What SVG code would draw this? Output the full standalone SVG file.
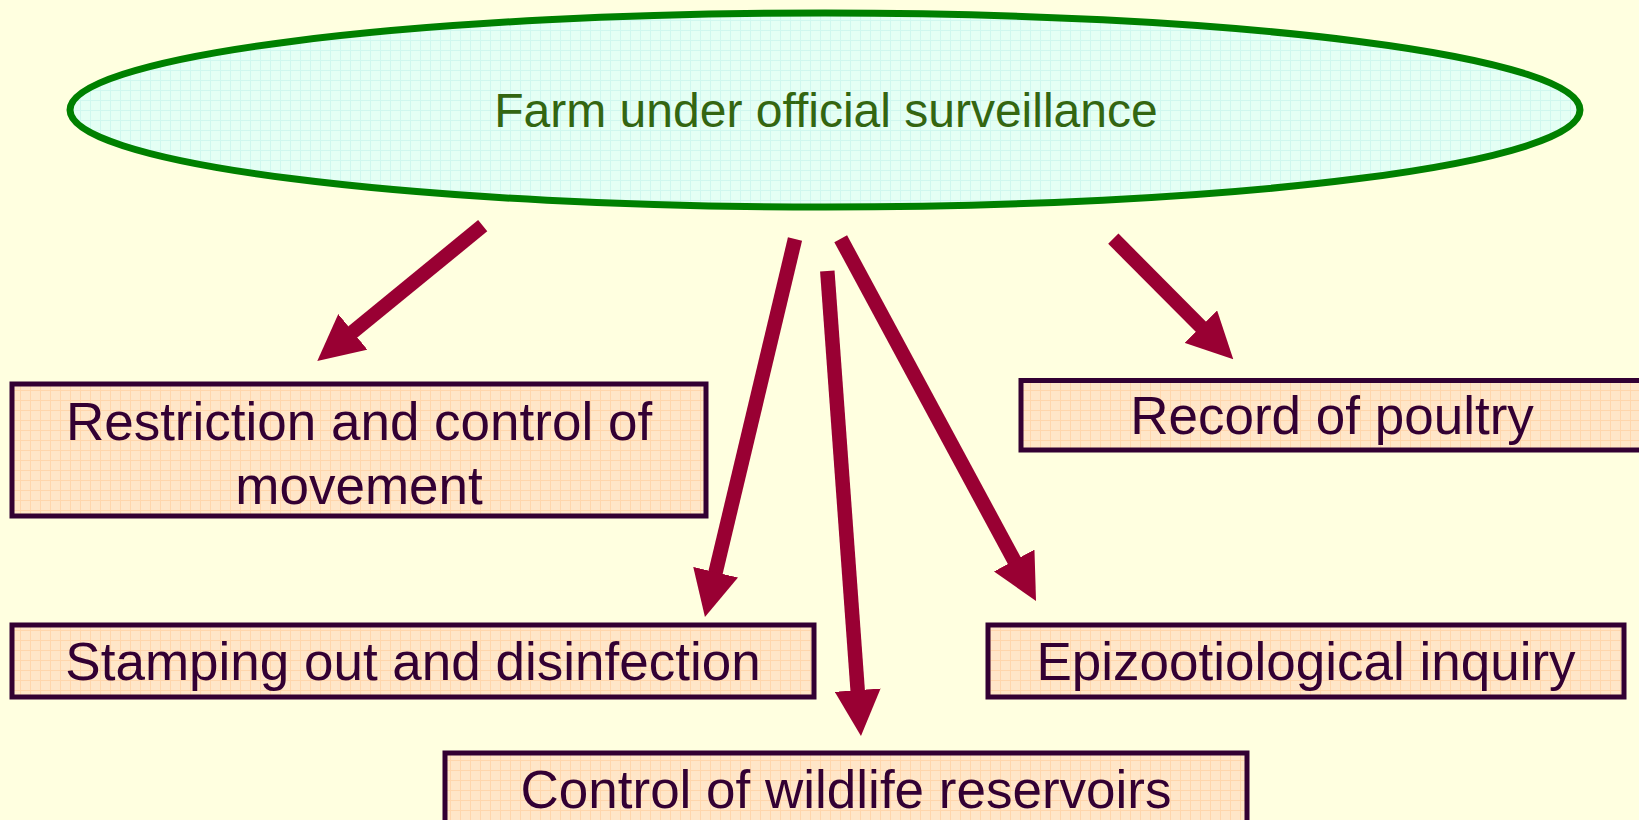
<svg xmlns="http://www.w3.org/2000/svg" width="1639" height="820" viewBox="0 0 1639 820">
  <style>
    .box { fill: url(#gridPeach); stroke: #330033; stroke-width: 5; }
    .lbl { font-family: "Liberation Sans", Arial, sans-serif; font-size: 53px; fill: #330033; text-anchor: middle; }
    .conn { stroke: #990033; stroke-width: 14.5; fill: none; marker-end: url(#head); }
  </style>
  <defs>
    <pattern id="gridPeach" width="10" height="10" patternUnits="userSpaceOnUse">
      <rect width="10" height="10" fill="#FFE6C8"/>
      <path d="M0,0.5 H10 M0.5,0 V10" stroke="#FFD6AC" stroke-width="1"/>
    </pattern>
    <pattern id="gridCyan" width="10" height="10" patternUnits="userSpaceOnUse">
      <rect width="10" height="10" fill="#E4FFF4"/>
      <path d="M0,0.5 H10 M0.5,0 V10" stroke="#CFF7EE" stroke-width="1"/>
    </pattern>
    <marker id="head" markerUnits="userSpaceOnUse" viewBox="0 0 46 46" markerWidth="46" markerHeight="46" refX="16" refY="23" orient="auto">
      <path d="M0,0 L46,23 L0,46 z" fill="#990033"/>
    </marker>
  </defs>

  <rect width="1639" height="820" fill="#FFFFE0"/>

  <g id="connectors">
    <line class="conn" x1="482.7" y1="225.7" x2="340.5" y2="342.0"/>
    <line class="conn" x1="795" y1="239" x2="711.9" y2="587.8"/>
    <line class="conn" x1="827.3" y1="271" x2="858.8" y2="706.1"/>
    <line class="conn" x1="840.7" y1="238.7" x2="1021.8" y2="574.6"/>
    <line class="conn" x1="1113.3" y1="238.7" x2="1212.1" y2="338.0"/>
  </g>

  <g id="farm">
    <ellipse cx="825" cy="110" rx="755" ry="97" fill="url(#gridCyan)" stroke="#008000" stroke-width="7"/>
    <text x="826" y="127" font-family="'Liberation Sans', Arial, sans-serif" font-size="48" fill="#336611" text-anchor="middle">Farm under official surveillance</text>
  </g>

  <g id="restriction">
    <rect class="box" x="12" y="384" width="694" height="132"/>
    <text class="lbl" x="359" y="440">Restriction and control of</text>
    <text class="lbl" x="359" y="504">movement</text>
  </g>

  <g id="record">
    <rect class="box" x="1021" y="380.5" width="640" height="69.5"/>
    <text class="lbl" x="1332" y="434">Record of poultry</text>
  </g>

  <g id="stamping">
    <rect class="box" x="12" y="625" width="802" height="72"/>
    <text class="lbl" x="413" y="680">Stamping out and disinfection</text>
  </g>

  <g id="epizootiological">
    <rect class="box" x="988" y="625" width="636" height="72"/>
    <text class="lbl" x="1306" y="680">Epizootiological inquiry</text>
  </g>

  <g id="wildlife">
    <rect class="box" x="445" y="753" width="802" height="72"/>
    <text class="lbl" x="846" y="808">Control of wildlife reservoirs</text>
  </g>
</svg>
